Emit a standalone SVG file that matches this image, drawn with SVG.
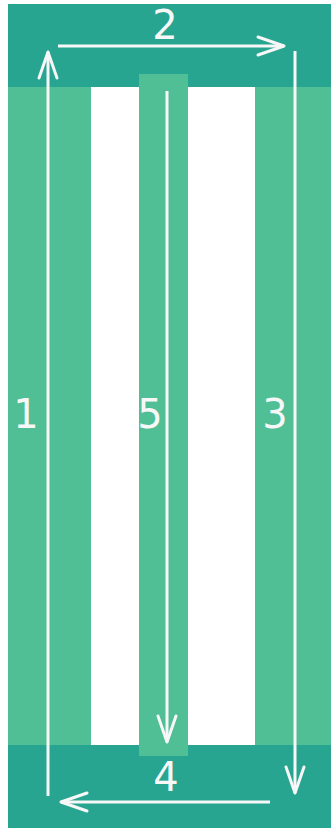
<svg xmlns="http://www.w3.org/2000/svg" width="331" height="828" viewBox="0 0 331 828">
<style>
.dark{fill:#27a590}
.light{fill:#50bf95}
.conn{stroke:#f7f7f7;stroke-width:3;fill:none;marker-end:url(#head)}
.lbl{fill:#f7f7f7;font-family:"Comic Sans MS","DejaVu Sans",sans-serif;font-size:40px;text-anchor:middle}
</style>
<defs>
<marker id="head" markerUnits="userSpaceOnUse" markerWidth="32" markerHeight="24" viewBox="0 0 32 24" refX="29" refY="12" orient="auto">
<path d="M3,3 L29,12 L3,21" fill="none" stroke="#f7f7f7" stroke-width="3" stroke-linecap="round" stroke-linejoin="round"/>
</marker>
</defs>
<rect width="331" height="828" fill="#ffffff"/>
<g id="top-band"><rect class="dark" x="8" y="4" width="323" height="83"/></g>
<g id="bottom-band"><rect class="dark" x="8" y="745" width="323" height="83"/></g>
<g id="left-column"><rect class="light" x="8" y="87" width="83" height="658"/></g>
<g id="right-column"><rect class="light" x="255" y="87" width="76" height="658"/></g>
<g id="middle-column"><rect class="light" x="139" y="74" width="49" height="682"/></g>
<g id="connectors">
<line class="conn" x1="48" y1="796" x2="48" y2="52"/>
<line class="conn" x1="58" y1="46" x2="284" y2="46"/>
<line class="conn" x1="295" y1="51" x2="295" y2="793"/>
<line class="conn" x1="270" y1="802" x2="61" y2="802"/>
<line class="conn" x1="167" y1="91" x2="167" y2="742"/>
<text class="lbl" x="26" y="428">1</text>
<text class="lbl" x="165" y="39">2</text>
<text class="lbl" x="275" y="428">3</text>
<text class="lbl" x="166" y="791">4</text>
<text class="lbl" x="150" y="428">5</text>
</g>
</svg>
